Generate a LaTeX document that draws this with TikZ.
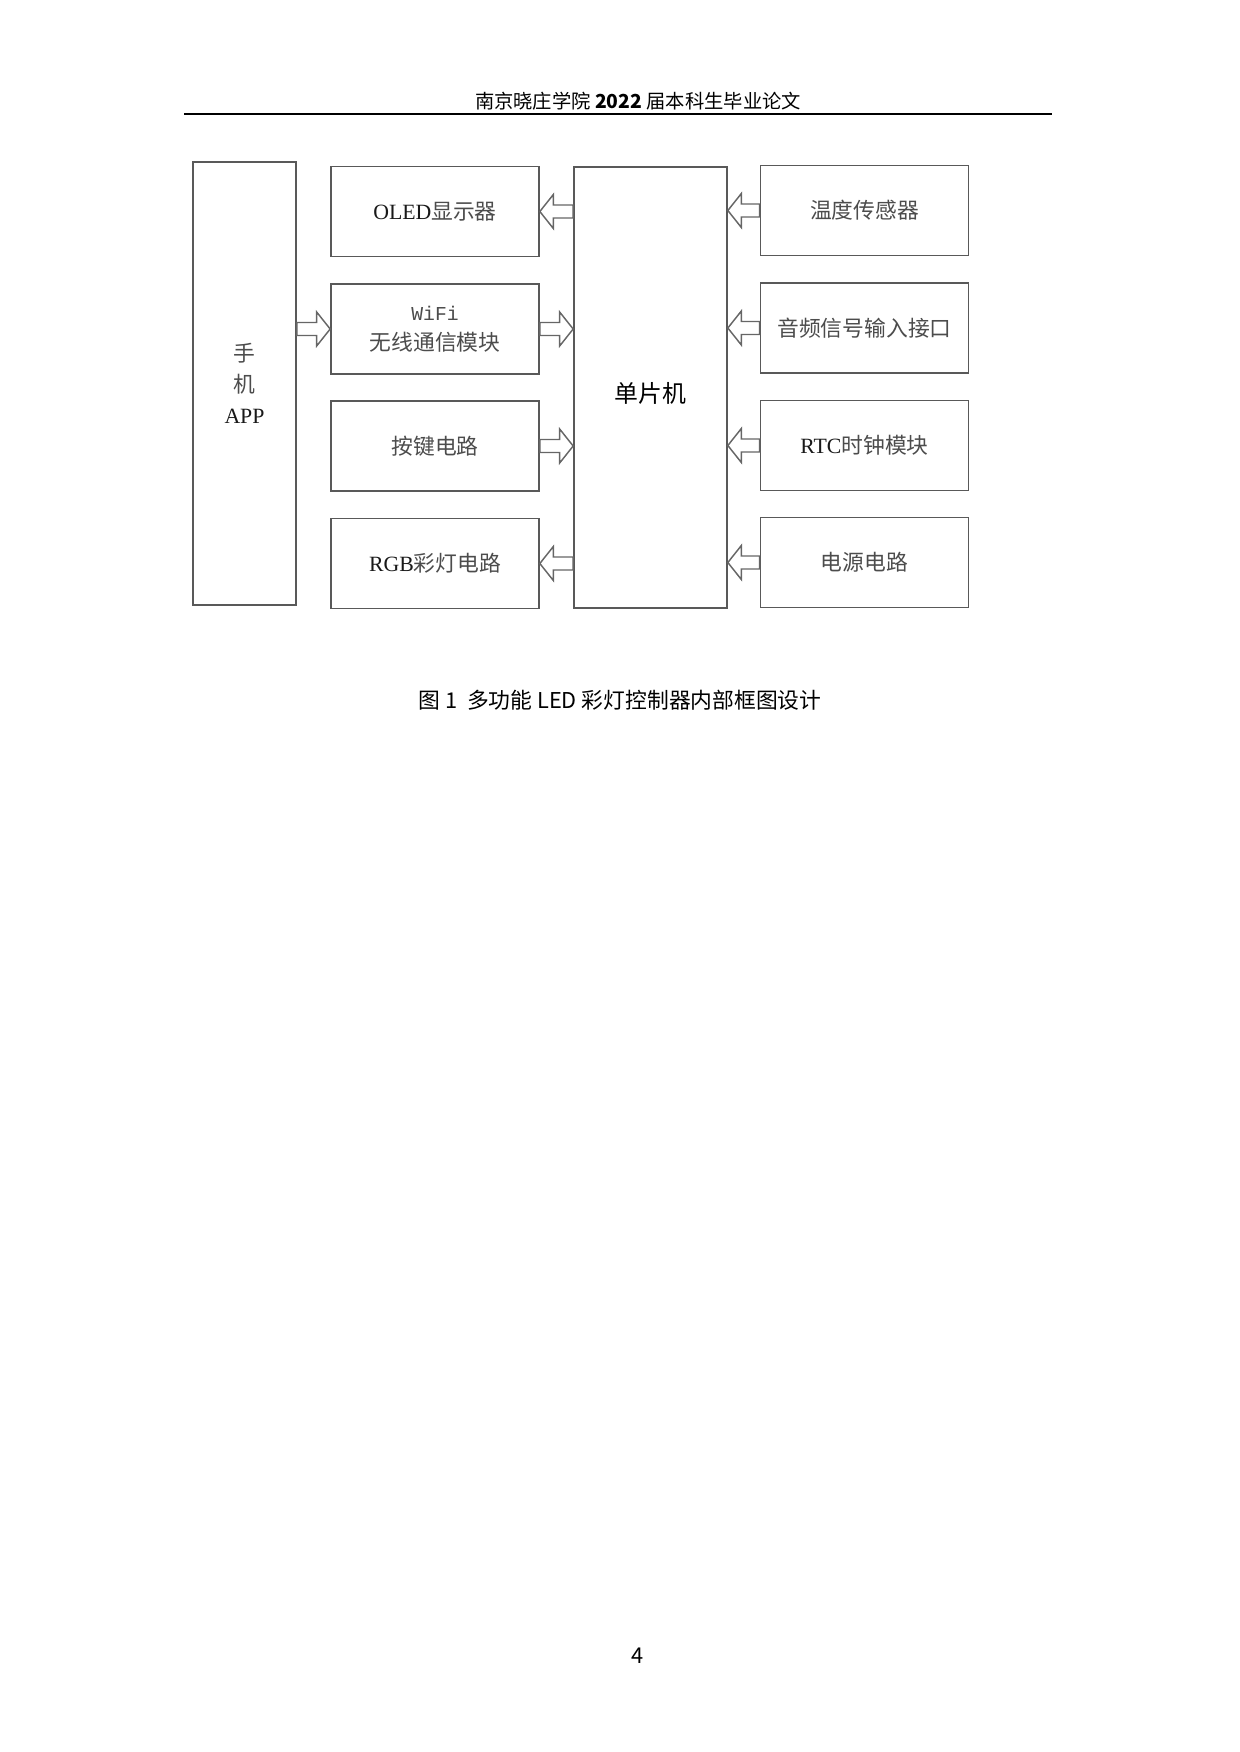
\documentclass[tikz,border=0pt]{standalone}
\usepackage{fontspec}
\setmainfont{Noto Sans CJK SC}
\newfontfamily\tnr{Liberation Serif}
\newfontfamily\mono{Liberation Mono}
\usetikzlibrary{calc, positioning}
\newcommand{\headLen}{2.29mm}
\newcommand{\headW}{2.88mm}
\newcommand{\shaftW}{1.10mm}
\tikzset{
    blockBox/.style={rectangle, draw=black!65, line width=0.8pt, inner sep=0pt, minimum width=208*0.16935mm, minimum height=90*0.16935mm, align=center, text=black!70, font=\fontsize{10.5pt}{14.4pt}\selectfont},
    appBox/.style={blockBox, minimum width=103*0.16935mm, minimum height=443*0.16935mm, font=\fontsize{10.5pt}{15pt}\selectfont},
    mcuBox/.style={blockBox, minimum width=153*0.16935mm, minimum height=441*0.16935mm, text=black, font=\fontsize{11.5pt}{14pt}\selectfont},
    hollowArrow/.style={draw=black!60, line width=0.7pt, fill=white, line join=miter},
    pageText/.style={inner sep=0pt, font=\fontsize{#1}{12pt}\selectfont},
}
\newcommand{\latin}[1]{{\tnr\color{black!90}#1}}
\newcommand{\drawHollow}[2]{
    % 尾部与尖端
    \coordinate (aT) at (#1);
    \coordinate (aP) at (#2);
    \coordinate (aH) at ($(aP)!\headLen!(aT)$);
    % 空心箭头轮廓
    \draw[hollowArrow] ($(aT)!\shaftW!90:(aP)$) -- ($(aH)!\shaftW!90:(aP)$) -- ($(aH)!\headW!90:(aP)$) -- (aP)
        -- ($(aH)!\headW!-90:(aP)$) -- ($(aH)!\shaftW!-90:(aP)$) -- ($(aT)!\shaftW!-90:(aP)$) -- cycle;
}
\begin{document}
\begin{tikzpicture}[x=0.16935mm, y=-0.16935mm]
        \useasboundingbox (0,0) rectangle (1240,1752);

        \node[pageText=9.3pt] (header) at (638, 101.5) {南京晓庄学院 {\bfseries 2022} 届本科生毕业论文};
        \draw[line width=1pt] (184, 114) -- (1052, 114);

        \node[appBox] (app) at (244.5, 383.5) {手\\机\\\latin{APP}};
        \node[blockBox] (oled) at (435, 211.5) {\latin{OLED}显示器};
        \node[blockBox] (wifi) at (435, 329) {{\mono\fontsize{9.5pt}{14.4pt}\selectfont WiFi}\\无线通信模块};
        \node[blockBox] (keys) at (435, 446) {按键电路};
        \node[blockBox] (rgb) at (435, 563.5) {\latin{RGB}彩灯电路};
        \node[mcuBox] (mcu) at (650.5, 387.5) {\raisebox{-1mm}[\height][\depth]{单片机}};
        \node[blockBox] (temp) at (864.5, 210.5) {温度传感器};
        \node[blockBox] (audio) at (864.5, 328) {音频信号输入接口};
        \node[blockBox] (rtc) at (864.5, 445.5) {\latin{RTC}时钟模块};
        \node[blockBox] (power) at (864.5, 562.5) {电源电路};

        \drawHollow{app.east |- wifi.west}{wifi.west}
        \drawHollow{wifi.east}{mcu.west |- wifi.east}
        \drawHollow{keys.east}{mcu.west |- keys.east}
        \drawHollow{mcu.west |- oled.east}{oled.east}
        \drawHollow{mcu.west |- rgb.east}{rgb.east}
        \foreach \src in {temp, audio, rtc, power}
            \drawHollow{\src.west}{mcu.east |- \src.west};

        \node[pageText=10.5pt] (caption) at (620, 700) {图 1\hspace{0.45em}多功能 LED 彩灯控制器内部框图设计};
        \node[pageText=10.5pt] (page) at (638, 1656) {4};

    \end{tikzpicture}
\end{document}
